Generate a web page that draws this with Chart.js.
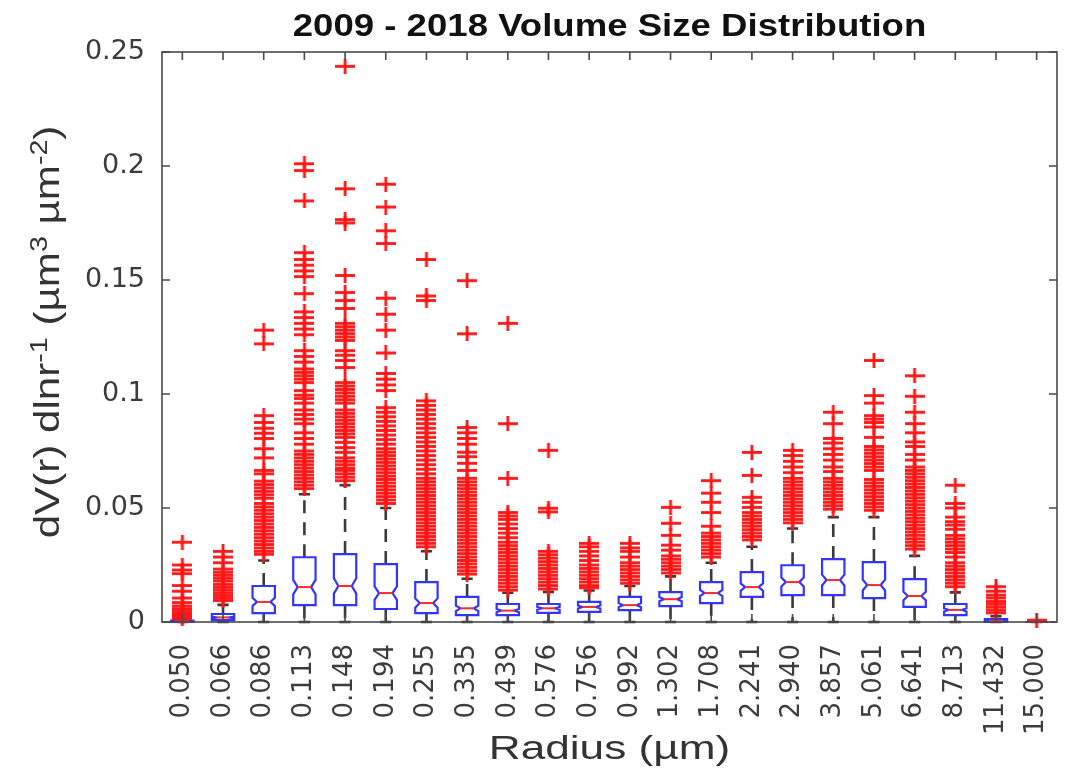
<!DOCTYPE html>
<html>
<head>
<meta charset="utf-8">
<script src="https://cdn.jsdelivr.net/npm/chart.js@4.4.0/dist/chart.umd.min.js"></script>
<style>
  html, body { margin: 0; padding: 0; background: #ffffff; }
  #wrap { width: 1066px; height: 774px; }
</style>
</head>
<body>
<div id="wrap"><canvas id="chart" width="1066" height="774"></canvas></div>
<script>
// Radius bins (µm)
const radiusLabels = ['0.050','0.066','0.086','0.113','0.148','0.194','0.255','0.335','0.439','0.576','0.756',
  '0.992','1.302','1.708','2.241','2.940','3.857','5.061','6.641','8.713','11.432','15.000'];

// Box statistics per bin, dV(r)/dlnr in µm³ µm⁻²
const q1Values      = [0, 0.0008, 0.0039, 0.0074, 0.0074, 0.0057, 0.0039, 0.003, 0.003, 0.004, 0.0044,
  0.0052, 0.007, 0.0083, 0.011, 0.0118, 0.0118, 0.0105, 0.0066, 0.003, 0, 0];
const medianValues  = [0.0003, 0.002, 0.0088, 0.0153, 0.0158, 0.0127, 0.0083, 0.006, 0.005, 0.006, 0.0066,
  0.0074, 0.010, 0.0127, 0.0153, 0.0175, 0.0184, 0.0162, 0.0114, 0.0053, 0.0005, 0];
const q3Values      = [0.0006, 0.0035, 0.0158, 0.0284, 0.0298, 0.0254, 0.0175, 0.011, 0.0079, 0.0079, 0.0088,
  0.011, 0.0131, 0.0175, 0.0219, 0.0249, 0.0276, 0.0263, 0.0188, 0.0079, 0.0013, 0];
const whiskerHigh   = [0.0012, 0.0075, 0.027, 0.056, 0.060, 0.050, 0.031, 0.019, 0.0128, 0.0132, 0.0138,
  0.0158, 0.020, 0.026, 0.033, 0.041, 0.046, 0.046, 0.029, 0.013, 0.0025, 0];
const whiskerLow    = [0, 0, 0, 0, 0, 0, 0, 0, 0, 0, 0, 0, 0, 0, 0, 0, 0, 0, 0, 0, 0, 0];

// Outliers per bin, same order as radiusLabels
const outlierValues = [
  [0.035, 0.025, 0.0228, 0.0212, 0.016, 0.0135, 0.0105, 0.0085, 0.007, 0.0058, 0.0048, 0.0038, 0.003, 0.0022, 0.0015],
  [0.031, 0.0285, 0.026, 0.0232, 0.0218, 0.0205, 0.0192, 0.018, 0.0165, 0.0152, 0.014, 0.0128, 0.0116, 0.0104, 0.0094],
  [0.128, 0.122, 0.0905, 0.0875, 0.085, 0.0828, 0.0805, 0.076, 0.072, 0.0665, 0.065, 0.0618, 0.0603, 0.0588, 0.0573,
   0.0558, 0.0543, 0.052, 0.0505, 0.049, 0.0475, 0.046, 0.0445, 0.043, 0.0415, 0.04, 0.0385, 0.037, 0.0355, 0.034,
   0.0325, 0.031, 0.0297],
  [0.201, 0.198, 0.1847, 0.162, 0.159, 0.1565, 0.154, 0.1515, 0.144, 0.136, 0.1335, 0.131, 0.1285, 0.126, 0.119,
   0.1165, 0.114, 0.111, 0.1095, 0.108, 0.1065, 0.105, 0.1015, 0.0995, 0.098, 0.096, 0.093, 0.091, 0.089, 0.087,
   0.083, 0.0805, 0.078, 0.075, 0.0735, 0.072, 0.0705, 0.069, 0.0675, 0.066, 0.0645, 0.063, 0.0615, 0.060, 0.0585],
  [0.2437, 0.19, 0.1765, 0.175, 0.152, 0.1445, 0.141, 0.1375, 0.131, 0.1295, 0.128, 0.1265, 0.125, 0.1235, 0.119,
   0.117, 0.1147, 0.1116, 0.105, 0.1035, 0.102, 0.1005, 0.099, 0.0975, 0.096, 0.093, 0.0915, 0.09, 0.0885, 0.087,
   0.0855, 0.084, 0.0825, 0.081, 0.0788, 0.0765, 0.0744, 0.072, 0.0705, 0.069, 0.0675, 0.0665, 0.065, 0.0635, 0.062],
  [0.192, 0.182, 0.1716, 0.166, 0.142, 0.135, 0.128, 0.118, 0.109, 0.1065, 0.104, 0.1015, 0.094, 0.092, 0.09,
   0.088, 0.086, 0.084, 0.082, 0.08, 0.078, 0.076, 0.0745, 0.073, 0.0715, 0.07, 0.0685, 0.067, 0.0655, 0.064,
   0.0625, 0.061, 0.0595, 0.058, 0.0565, 0.055, 0.0535, 0.052],
  [0.159, 0.143, 0.141, 0.097, 0.095, 0.093, 0.091, 0.089, 0.087, 0.085, 0.083, 0.081, 0.079, 0.077, 0.075,
   0.073, 0.071, 0.069, 0.067, 0.065, 0.063, 0.0615, 0.06, 0.0585, 0.057, 0.0555, 0.054, 0.0525, 0.051, 0.0495,
   0.048, 0.0465, 0.045, 0.0435, 0.042, 0.0405, 0.039, 0.0375, 0.036, 0.0345, 0.033],
  [0.1497, 0.1264, 0.0853, 0.083, 0.0805, 0.078, 0.0745, 0.0725, 0.0696, 0.0665, 0.063, 0.0615, 0.06, 0.0585, 0.057,
   0.0555, 0.054, 0.0525, 0.051, 0.0495, 0.048, 0.0465, 0.045, 0.0435, 0.042, 0.0405, 0.039, 0.0375, 0.036, 0.0345,
   0.033, 0.0315, 0.03, 0.0285, 0.027, 0.0255, 0.024, 0.0225, 0.021],
  [0.131, 0.087, 0.063, 0.048, 0.0465, 0.045, 0.043, 0.041, 0.039, 0.037, 0.035, 0.0335, 0.032, 0.0305, 0.029,
   0.0275, 0.026, 0.0245, 0.023, 0.0215, 0.02, 0.0185, 0.017, 0.0155, 0.014],
  [0.0753, 0.0499, 0.0483, 0.031, 0.0295, 0.028, 0.0265, 0.025, 0.0235, 0.022, 0.0205, 0.019, 0.0175, 0.016, 0.0145],
  [0.0345, 0.033, 0.031, 0.029, 0.027, 0.025, 0.0235, 0.022, 0.0205, 0.019, 0.0175, 0.016, 0.015],
  [0.0345, 0.0325, 0.031, 0.0285, 0.026, 0.0245, 0.023, 0.0215, 0.02, 0.0185, 0.017],
  [0.0503, 0.0433, 0.038, 0.0337, 0.0315, 0.029, 0.0275, 0.026, 0.0245, 0.023, 0.0215],
  [0.062, 0.0565, 0.0525, 0.048, 0.042, 0.039, 0.0375, 0.036, 0.0345, 0.033, 0.0315, 0.03, 0.0285],
  [0.0744, 0.0643, 0.0547, 0.0525, 0.0503, 0.048, 0.0465, 0.045, 0.0435, 0.042, 0.0405, 0.039, 0.0375, 0.036],
  [0.0753, 0.073, 0.0705, 0.068, 0.0655, 0.063, 0.0615, 0.06, 0.0585, 0.057, 0.0555, 0.054, 0.0525, 0.051, 0.0495,
   0.048, 0.0465, 0.045, 0.0435],
  [0.092, 0.087, 0.0805, 0.0785, 0.076, 0.0735, 0.071, 0.068, 0.066, 0.063, 0.0615, 0.06, 0.0585, 0.057, 0.0555,
   0.054, 0.0525, 0.051, 0.0495],
  [0.1147, 0.0993, 0.096, 0.0905, 0.089, 0.0875, 0.0855, 0.081, 0.077, 0.0755, 0.074, 0.0725, 0.071, 0.0695, 0.068,
   0.0665, 0.0625, 0.061, 0.0595, 0.058, 0.0565, 0.055, 0.0535, 0.052, 0.0505, 0.049],
  [0.108, 0.099, 0.092, 0.087, 0.083, 0.079, 0.077, 0.0735, 0.071, 0.068, 0.0665, 0.065, 0.0635, 0.062, 0.0605,
   0.059, 0.0575, 0.056, 0.0545, 0.053, 0.0515, 0.05, 0.0485, 0.047, 0.0455, 0.044, 0.0425, 0.041, 0.0395, 0.038,
   0.0365, 0.035, 0.0335, 0.032],
  [0.06, 0.052, 0.05, 0.046, 0.044, 0.0425, 0.0407, 0.038, 0.0365, 0.035, 0.0335, 0.032, 0.0305, 0.0285, 0.026,
   0.0245, 0.023, 0.0215, 0.02, 0.0185, 0.017, 0.0155],
  [0.0155, 0.0135, 0.0118, 0.0105, 0.009, 0.0078, 0.0065, 0.0052, 0.004],
  [0.0008]
];

// Y axis ticks
const yTickValues = [0, 0.05, 0.1, 0.15, 0.2, 0.25];

const TITLE_TEXT = '2009 - 2018 Volume Size Distribution';
const X_TITLE = 'Radius (µm)';
const FONT = "'Liberation Sans', Arial, Helvetica, sans-serif";
const TICK_FONT = "'DejaVu Sans', sans-serif";
const NOTCH_FRACTION = 0.15;   // notch half-height as a share of the IQR
const NOTCH_INDENT = 0.2;      // notch depth as a share of the box width

const outlierPoints = [];
outlierValues.forEach((vals, i) => vals.forEach(v => outlierPoints.push({ x: radiusLabels[i], y: v })));

// '+' marker, a little wider than tall
function makePlusMarker(w, h, lw, color) {
  const c = document.createElement('canvas');
  c.width = w; c.height = h;
  const g = c.getContext('2d');
  g.fillStyle = color;
  g.fillRect(0, (h - lw) / 2, w, lw);
  g.fillRect((w - lw) / 2, 0, lw, h);
  return c;
}
const plusMarker = makePlusMarker(20, 15, 2.8, '#ff1414');

// Draws whiskers, notched boxes and medians from the box statistics
const boxWhiskerPlugin = {
  id: 'boxWhisker',
  beforeDatasetsDraw(chart) {
    const { ctx } = chart;
    const y = chart.scales.y;
    const meta = chart.getDatasetMeta(0);
    ctx.save();
    meta.data.forEach((bar, i) => {
      const cx = bar.x;
      const w = bar.width;
      const half = w / 2;
      const yQ1 = y.getPixelForValue(q1Values[i]);
      const yQ3 = y.getPixelForValue(q3Values[i]);
      const yMed = y.getPixelForValue(medianValues[i]);
      const yHi = y.getPixelForValue(whiskerHigh[i]);
      const yLo = y.getPixelForValue(whiskerLow[i]);

      // whiskers
      ctx.strokeStyle = '#3a3a3a';
      ctx.lineWidth = 2.6;
      ctx.setLineDash([13, 9]);
      ctx.beginPath();
      ctx.moveTo(cx, yQ3); ctx.lineTo(cx, yHi);
      ctx.moveTo(cx, yQ1); ctx.lineTo(cx, yLo);
      ctx.stroke();
      ctx.setLineDash([]);
      ctx.beginPath();
      ctx.moveTo(cx - half / 2, yHi); ctx.lineTo(cx + half / 2, yHi);
      ctx.moveTo(cx - half / 2, yLo); ctx.lineTo(cx + half / 2, yLo);
      ctx.stroke();

      // notched box
      const iqr = q3Values[i] - q1Values[i];
      const nLo = y.getPixelForValue(Math.max(q1Values[i], medianValues[i] - NOTCH_FRACTION * iqr));
      const nHi = y.getPixelForValue(Math.min(q3Values[i], medianValues[i] + NOTCH_FRACTION * iqr));
      const ind = w * NOTCH_INDENT;
      const L = cx - half, R = cx + half;
      ctx.strokeStyle = '#3434ff';
      ctx.lineWidth = 2.2;
      ctx.beginPath();
      ctx.moveTo(L, yQ1);
      ctx.lineTo(L, nLo);
      ctx.lineTo(L + ind, yMed);
      ctx.lineTo(L, nHi);
      ctx.lineTo(L, yQ3);
      ctx.lineTo(R, yQ3);
      ctx.lineTo(R, nHi);
      ctx.lineTo(R - ind, yMed);
      ctx.lineTo(R, nLo);
      ctx.lineTo(R, yQ1);
      ctx.closePath();
      ctx.stroke();

      // median
      ctx.strokeStyle = '#ff2a2a';
      ctx.lineWidth = 2;
      ctx.beginPath();
      ctx.moveTo(L + ind, yMed);
      ctx.lineTo(R - ind, yMed);
      ctx.stroke();
    });
    ctx.restore();
  }
};

// Axes frame, inward ticks and titles
const frameAndTitlesPlugin = {
  id: 'frameAndTitles',
  afterDraw(chart) {
    const { ctx, chartArea: a } = chart;
    const x = chart.scales.x, y = chart.scales.y;
    ctx.save();
    ctx.strokeStyle = '#4a4a4a';
    ctx.lineWidth = 1.6;
    ctx.strokeRect(a.left, a.top, a.right - a.left, a.bottom - a.top);
    const tl = 8;
    ctx.beginPath();
    yTickValues.forEach(v => {
      const py = y.getPixelForValue(v);
      ctx.moveTo(a.left, py); ctx.lineTo(a.left + tl, py);
      ctx.moveTo(a.right, py); ctx.lineTo(a.right - tl, py);
    });
    radiusLabels.forEach((_, i) => {
      const px = x.getPixelForValue(i);
      ctx.moveTo(px, a.top); ctx.lineTo(px, a.top + tl);
      ctx.moveTo(px, a.bottom); ctx.lineTo(px, a.bottom - tl);
    });
    ctx.stroke();

    const cxMid = (a.left + a.right) / 2;
    // chart title
    ctx.fillStyle = '#111111';
    ctx.textAlign = 'center';
    ctx.textBaseline = 'middle';
    ctx.save();
    ctx.translate(cxMid, 27);
    ctx.scale(1.18, 1);
    ctx.font = 'bold 31px ' + FONT;
    ctx.fillText(TITLE_TEXT, 0, 0);
    ctx.restore();

    // x axis title
    ctx.fillStyle = '#333333';
    ctx.save();
    ctx.translate(cxMid, 750);
    ctx.scale(1.3, 1);
    ctx.font = '34px ' + FONT;
    ctx.fillText(X_TITLE, 0, 0);
    ctx.restore();

    // y axis title with superscripts
    const base = 31, sup = 21;
    const parts = [
      { t: 'dV(r) dlnr', s: false }, { t: '-1', s: true }, { t: ' (µm', s: false },
      { t: '3', s: true }, { t: ' µm', s: false }, { t: '-2', s: true }, { t: ')', s: false }
    ];
    let total = 0;
    parts.forEach(p => { ctx.font = (p.s ? sup : base) + 'px ' + FONT; p.w = ctx.measureText(p.t).width; total += p.w; });
    ctx.save();
    ctx.translate(47, 332);
    ctx.rotate(-Math.PI / 2);
    ctx.scale(1.36, 1.12);
    ctx.textAlign = 'left';
    ctx.textBaseline = 'alphabetic';
    let xx = -total / 2;
    parts.forEach(p => {
      ctx.font = (p.s ? sup : base) + 'px ' + FONT;
      ctx.fillText(p.t, xx, p.s ? 0 : 11);
      xx += p.w;
    });
    ctx.restore();
    ctx.restore();
  }
};

Chart.defaults.font.family = FONT;

new Chart(document.getElementById('chart'), {
  type: 'bar',
  data: {
    labels: radiusLabels,
    datasets: [
      {
        type: 'bar',
        label: 'Interquartile range',
        data: radiusLabels.map((_, i) => [q1Values[i], q3Values[i]]),
        backgroundColor: 'rgba(0,0,0,0)',
        borderWidth: 0,
        barPercentage: 0.55,
        categoryPercentage: 1.0,
        order: 2
      },
      {
        type: 'scatter',
        label: 'Outliers',
        data: outlierPoints,
        pointStyle: plusMarker,
        pointRadius: 8,
        borderColor: '#ff1414',
        backgroundColor: '#ff1414',
        clip: false,
        order: 1
      }
    ]
  },
  options: {
    responsive: false,
    animation: false,
    devicePixelRatio: 1,
    layout: { padding: { top: 52, right: 3, left: 0, bottom: 0 } },
    plugins: { legend: { display: false }, tooltip: { enabled: false }, title: { display: false } },
    scales: {
      x: {
        type: 'category',
        offset: true,
        grid: { display: false },
        border: { display: false },
        ticks: { minRotation: 90, maxRotation: 90, autoSkip: false, padding: 14, color: '#3c3c3c',
                 font: { size: 26, family: TICK_FONT } },
        afterFit(scale) { scale.height = 152; scale.paddingLeft = 0; scale.paddingRight = 0; }
      },
      y: {
        min: 0, max: 0.25,
        afterBuildTicks(scale) { scale.ticks = yTickValues.map(v => ({ value: v })); },
        ticks: { padding: 9, color: '#3c3c3c', font: { size: 27, family: TICK_FONT },
                 callback: v => String(Number(v.toFixed(2))) },
        grid: { display: false },
        border: { display: false },
        afterFit(scale) { scale.width = 162; scale.paddingTop = 0; scale.paddingBottom = 0; }
      }
    }
  },
  plugins: [boxWhiskerPlugin, frameAndTitlesPlugin]
});
</script>
</body>
</html>
